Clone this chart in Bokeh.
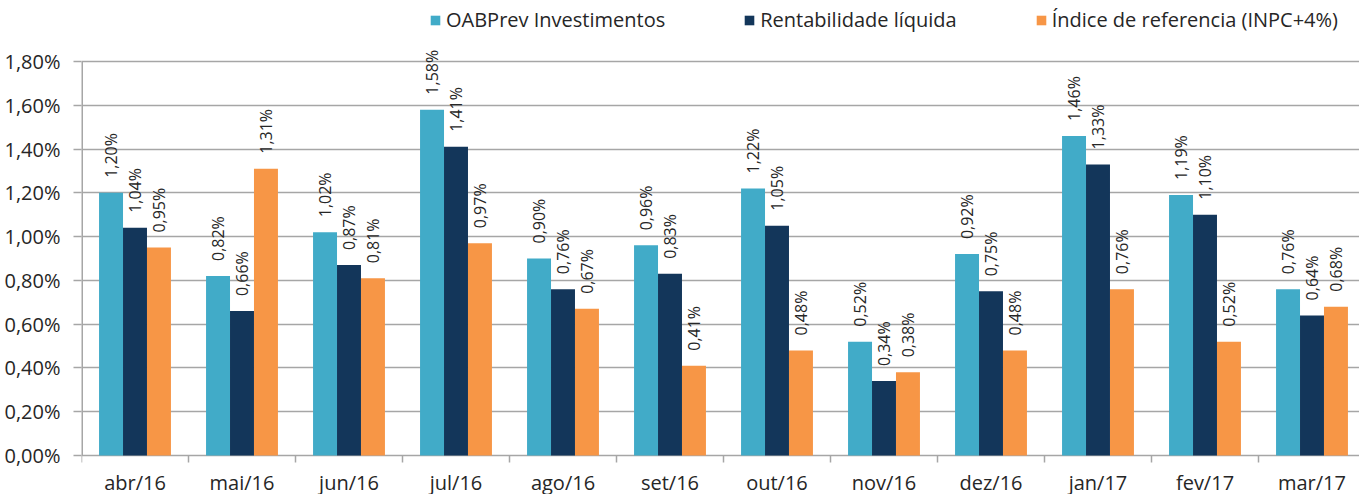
import math
from bokeh.plotting import figure
from bokeh.models import (Range1d, LinearAxis, FixedTicker, CustomJSTickFormatter,
                          ColumnDataSource, LabelSet, Legend, LegendItem)
from bokeh.core.properties import value
from bokeh.embed import file_html
from bokeh.resources import INLINE

months = ["abr/16", "mai/16", "jun/16", "jul/16", "ago/16", "set/16",
          "out/16", "nov/16", "dez/16", "jan/17", "fev/17", "mar/17"]
oabprev = [1.20, 0.82, 1.02, 1.58, 0.90, 0.96, 1.22, 0.52, 0.92, 1.46, 1.19, 0.76]
rentab = [1.04, 0.66, 0.87, 1.41, 0.76, 0.83, 1.05, 0.34, 0.75, 1.33, 1.10, 0.64]
indice = [0.95, 1.31, 0.81, 0.97, 0.67, 0.41, 0.48, 0.38, 0.48, 0.76, 0.52, 0.68]
series_names = ["OABPrev Investimentos", "Rentabilidade líquida", "Índice de referencia (INPC+4%)"]
colors = ["#41ABC8", "#13365A", "#F79646"]
y_ticks = [0.0, 0.2, 0.4, 0.6, 0.8, 1.0, 1.2, 1.4, 1.6, 1.8]

FONT = "Open Sans"
TXT = "#262626"
GRID = "#A6A6A6"

W, H = 1359, 494
LEFT = 81
top_px, zero_px = 61, 455          # screen rows of 1.80% and 0.00%
ymax = y_ticks[-1]
ppu = (zero_px - top_px) / ymax    # pixels per unit
y_start = -(H - zero_px) / ppu
y_end = ymax + top_px / ppu
frame_w = W - LEFT
cat_px = 107.0

p = figure(width=W, height=H, output_backend="svg", toolbar_location=None,
           x_range=Range1d(-0.5, -0.5 + frame_w / cat_px), y_range=Range1d(y_start, y_end),
           min_border_left=LEFT, min_border_right=0, min_border_top=0, min_border_bottom=0,
           x_axis_location=None, y_axis_location=None)
p.outline_line_color = None
p.background_fill_color = "white"
p.border_fill_color = "white"

# Y axis (ticks and labels only; line drawn as a segment limited to 0..1.8)
yax = LinearAxis(ticker=FixedTicker(ticks=y_ticks))
yax.formatter = CustomJSTickFormatter(code="return tick.toFixed(2).replace('.', ',') + '%';")
yax.axis_line_color = None
yax.major_tick_line_color = GRID
yax.major_tick_line_width = 1.5
yax.major_tick_out = 8
yax.major_tick_in = 0
yax.minor_tick_line_color = None
yax.major_label_standoff = 13
yax.major_label_text_font = FONT
yax.major_label_text_font_size = "20px"
yax.major_label_text_color = TXT
p.add_layout(yax, "left")

p.xgrid.visible = False
p.ygrid.ticker = FixedTicker(ticks=y_ticks)
p.ygrid.grid_line_color = GRID
p.ygrid.grid_line_width = 1.5

# y axis line
p.segment(x0=[-0.5], y0=[0.0], x1=[-0.5], y1=[ymax], line_color=GRID, line_width=3)

# tick marks at category boundaries below the x axis
tick_len = 7 / ppu
bounds = [i - 0.5 for i in range(len(months) + 1)]
p.segment(x0=bounds, y0=[0.0] * len(bounds), x1=bounds, y1=[-tick_len] * len(bounds),
          line_color=GRID, line_width=1.5)

# month labels
msrc = ColumnDataSource(dict(x=list(range(len(months))), y=[0.0] * len(months), m=months))
p.add_layout(LabelSet(x="x", y="y", text="m", source=msrc, y_offset=-34,
                      text_align="center", text_baseline="alphabetic",
                      text_font=value(FONT), text_font_size="20px", text_color=TXT))

bw = 0.224
offsets = [-bw, 0.0, bw]
items = []
for name, vals, col, off in zip(series_names, [oabprev, rentab, indice], colors, offsets):
    src = ColumnDataSource(dict(
        x=[i + off for i in range(len(months))],
        top=vals,
        lab=[("%.2f" % v).replace(".", ",") + "%" for v in vals],
    ))
    r = p.vbar(x="x", top="top", width=bw, bottom=0, source=src,
               fill_color=col, line_color=None)
    items.append(LegendItem(label=name, renderers=[r]))
    ls = LabelSet(x="x", y="top", text="lab", source=src, angle=math.pi / 2,
                  text_align="left", text_baseline="middle", y_offset=15,
                  text_font=value(FONT), text_font_size="16px", text_color=TXT)
    p.add_layout(ls)

legend = Legend(items=items, orientation="horizontal", location=(348, H - 33),
                glyph_width=12, glyph_height=12, label_standoff=5, spacing=78,
                padding=0, margin=0, border_line_color=None, background_fill_alpha=0,
                label_text_font=FONT, label_text_font_size="20px", label_text_color=TXT)
p.add_layout(legend)

open("out.html", "w").write(file_html(p, INLINE))
